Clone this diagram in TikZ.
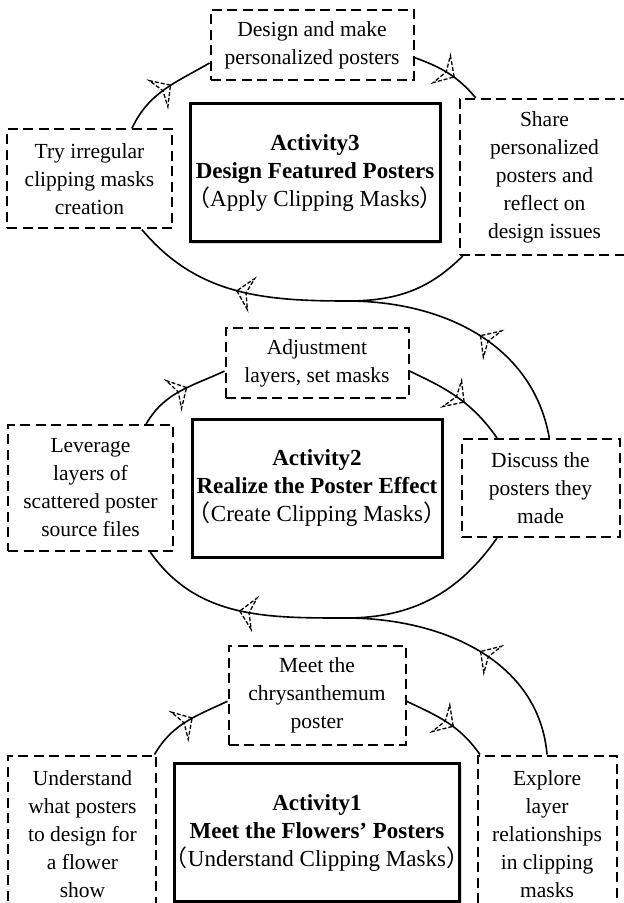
\documentclass[tikz,border=0pt]{standalone}
\usepackage{fontspec}
\setmainfont{Liberation Serif}
\newfontfamily\cjk{Noto Sans CJK SC}
\usetikzlibrary{positioning,decorations.markings,shadows}
\newcommand{\lpr}{\makebox[.5em][r]{\cjk （}}
\newcommand{\rpr}{\makebox[.5em][l]{\cjk ）}}

\begin{document}
\begin{tikzpicture}[
  activity/.style={draw,line width=1.5pt,align=center,minimum width=125pt,
              minimum height=69pt,inner xsep=1pt,fill=white,
              font=\fontsize{11.5pt}{14pt}\selectfont,
              drop shadow={opacity=.3,shadow xshift=1pt,shadow yshift=-1pt}},
  task/.style 2 args={draw,line width=1pt,dash pattern=on 5pt off 2.75pt,
              align=center,minimum width=#1,minimum height=#2,inner sep=2pt,
              font=\fontsize{10.75pt}{14pt}\selectfont},
  arc/.style={line width=.8pt},
  link/.style={arc,postaction=decorate,
              decoration={markings,mark=at position #1 with
              {\draw[line width=.65pt,dash pattern=on 2pt off 1pt]
                (3.5pt,0)--(-3.8pt,8pt)--(-1.2pt,0)--(-3.8pt,-8pt)--cycle;}}},
  link/.default=.5
]
  \useasboundingbox (0,0) rectangle (311.5pt,-451.5pt);

  \node[activity] (act3) at (157.5pt,-86.5pt)
    {\textbf{Activity3}\\\textbf{Design Featured Posters}\\\lpr Apply Clipping Masks\rpr};
  \node[activity,below=87pt of act3,xshift=1pt] (act2)
    {\textbf{Activity2}\\\textbf{Realize the Poster Effect}\\\lpr Create Clipping Masks\rpr};
  \node[activity,below=101.75pt of act2] (act1)
    {\textbf{Activity1}\\\textbf{Meet the Flowers’ Posters}\\\lpr Understand Clipping Masks\rpr};

  \node[task={101.5pt}{35pt},above=10.75pt of act3,xshift=-1.5pt] (d3top) {Design and make\\personalized posters};
  \node[task={82.5pt}{49.5pt},left=7.75pt of act3,yshift=-3pt] (d3left) {Try irregular\\clipping masks\\creation};
  \node[task={85pt}{78pt},right=8.5pt of act3,yshift=-2pt] (d3right) {Share\\personalized\\posters and\\reflect on\\design issues};

  \node[task={91.5pt}{35pt},above=9.25pt of act2] (d2top) {Adjustment\\layers, set masks};
  \node[task={82.5pt}{63pt},left=8.25pt of act2] (d2left) {Leverage\\layers of\\scattered poster\\source files};
  \node[task={79pt}{49pt},right=8.5pt of act2] (d2right) {Discuss the\\posters they\\made};

  \node[task={88.5pt}{49.5pt},above=8.25pt of act1] (d1top) {Meet the\\chrysanthemum\\poster};
  \node[task={74pt}{79pt},left=7.75pt of act1,yshift=-1pt] (d1left) {Understand\\what posters\\to design for\\a flower\\show};
  \node[task={69.5pt}{79pt},right=7.75pt of act1,yshift=-1pt] (d1right) {Explore\\layer\\relationships\\in clipping\\masks};

  \coordinate[below=28.75pt of act3.south,xshift=16pt] (m3);
  \coordinate[below=29.75pt of act2.south,xshift=14.5pt] (m2);

  \draw[link] (d3left.50) to[out=65,in=210] (d3top.190);
  \draw[link] (d3top.-7) to[out=-20,in=130] (d3right.131);
  \draw[arc] (d3right.-136) to[out=-135,in=0] (m3);
  \draw[link=.46] (m3) to[out=180,in=-50] (d3left.-44);
  \draw[link=.45] (d2right.80) to[out=100,in=0] (m3);

  \draw[link] (d2left.49) to[out=60,in=-155] (d2top.185);
  \draw[link] (d2top.-5) to[out=-25,in=125] (d2right.131);
  \draw[arc] (d2right.-131) to[out=-125,in=0] (m2);
  \draw[link=.46] (m2) to[out=180,in=-55] (d2left.-47);
  \draw[link=.45] (d1right.north) to[out=95,in=0] (m2);

  \draw[link] (d1left.48) to[out=60,in=-155] (d1top.184);
  \draw[link] (d1top.-4) to[out=-25,in=125] (d1right.130);
\end{tikzpicture}
\end{document}
